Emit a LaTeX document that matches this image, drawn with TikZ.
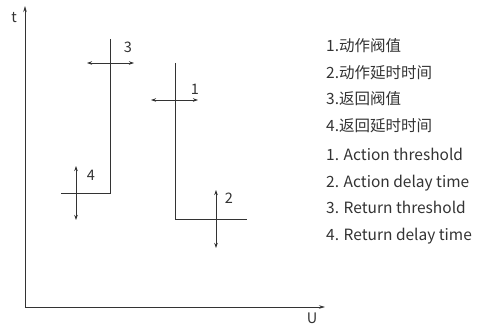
\documentclass[tikz,border=0pt]{standalone}
\usepackage{fontspec}
\setmainfont{Noto Sans CJK SC}
\usetikzlibrary{arrows.meta}

\begin{document}
\begin{tikzpicture}[
	x=1pt, y=-1pt,
	line/.style={draw=black!80, line width=0.8pt},
	adjust/.style={line, {Stealth[length=5pt,width=3.5pt]}-{Stealth[length=5pt,width=3.5pt]}},
	axis/.style={line, -{Stealth[length=6pt,width=3.5pt]}},
	lbl/.style={font=\fontsize{14.5}{16}\selectfont, text=black!80, inner sep=0pt},
	legend/.style={lbl, anchor=west, font=\fontsize{15.5}{18}\selectfont, text height=11pt, text depth=3pt}
]
	\useasboundingbox (0,0) rectangle (479,328);
	% axes
	\coordinate (O) at (25,307);
	\coordinate (tend) at (25,6);
	\coordinate (Uend) at (325,307);
	\draw[axis] (O) -- (tend);
	\draw[axis] (O) -- (Uend);
	\node[lbl] (t) at (14,18) {t};
	\node[lbl] (U) at (312,318) {U};
	% return curve
	\coordinate (rtop) at (110,39);
	\coordinate (rcorner) at (110,193);
	\coordinate (rleft) at (61,193);
	\draw[line] (rtop) -- (rcorner) -- (rleft);
	% action curve
	\coordinate (atop) at (175,63);
	\coordinate (acorner) at (175,219);
	\coordinate (aright) at (247,219);
	\draw[line] (atop) -- (acorner) -- (aright);
	% adjustment arrows
	\coordinate (a1l) at (151,100); \coordinate (a1r) at (198,100);
	\coordinate (a2t) at (216,190); \coordinate (a2b) at (216,248);
	\coordinate (a3l) at (87,63);   \coordinate (a3r) at (134,63);
	\coordinate (a4t) at (76,166);  \coordinate (a4b) at (76,220);
	\draw[adjust] (a1l) -- (a1r);
	\draw[adjust] (a2t) -- (a2b);
	\draw[adjust] (a3l) -- (a3r);
	\draw[adjust] (a4t) -- (a4b);
	\node[lbl] (n1) at (195,89) {1};
	\node[lbl] (n2) at (229,198) {2};
	\node[lbl] (n3) at (128,47) {3};
	\node[lbl] (n4) at (91,175) {4};
	% legend
	\node[legend] (l1) at (326,48) {1.动作阀值};
	\node[legend] (l2) at (326,74.5) {2.动作延时时间};
	\node[legend] (l3) at (326,101) {3.返回阀值};
	\node[legend] (l4) at (326,127.5) {4.返回延时时间};
	\node[legend] (l5) at (326,157) {1. Action threshold};
	\node[legend] (l6) at (326,183.5) {2. Action delay time};
	\node[legend] (l7) at (326,210) {3. Return threshold};
	\node[legend] (l8) at (326,236.5) {4. Return delay time};
\end{tikzpicture}
\end{document}
